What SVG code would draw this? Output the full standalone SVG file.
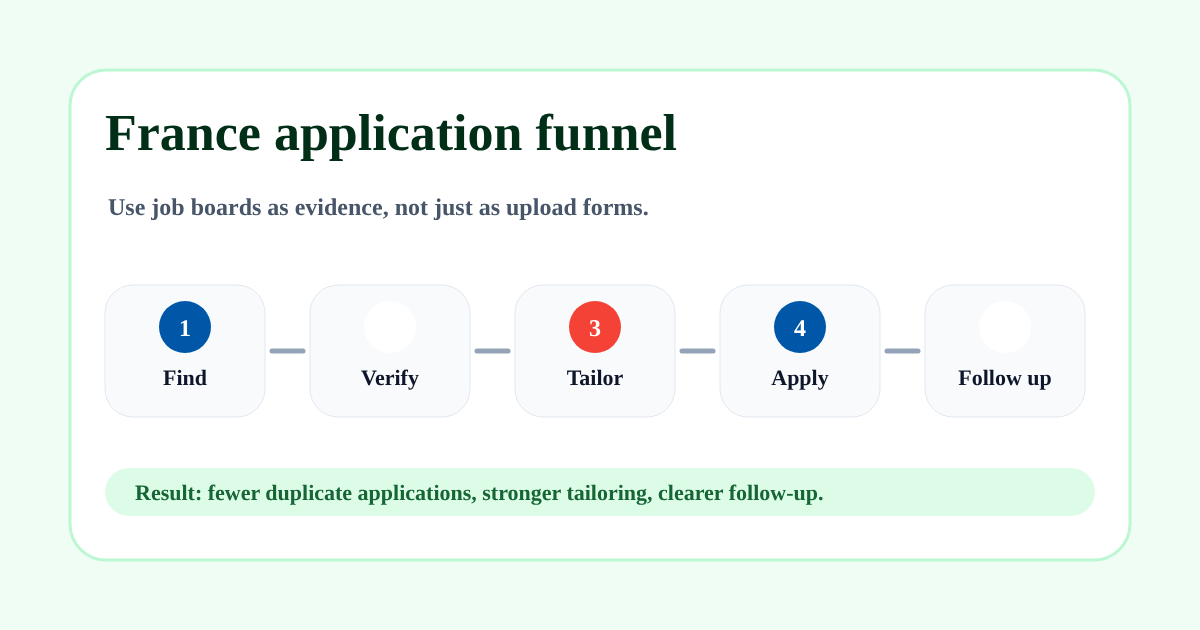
<svg xmlns="http://www.w3.org/2000/svg" width="1200" height="630" viewBox="0 0 1200 630">
<defs><filter id="soft" x="-5%" y="-20%" width="110%" height="140%"><feGaussianBlur stdDeviation="0.3"/></filter></defs>
<style>
text{font-family:"Liberation Serif","Times New Roman",serif;font-weight:700;text-rendering:geometricPrecision;filter:url(#soft)}
.box{fill:#f8fafc;stroke:#e2e8f0;stroke-width:1}
.lab{font-size:22px;fill:#0f172a;text-anchor:middle}
.num{font-size:24px;fill:#fff;text-anchor:middle}
.con{stroke:#94a3b8;stroke-width:5;stroke-linecap:round;fill:none}
</style>
<rect width="1200" height="630" fill="#f0fdf4"/>
<rect x="70" y="70" width="1060" height="490" rx="36" fill="#fff" stroke="#bbf7d0" stroke-width="3"/>
<text x="105" y="150" font-size="52" fill="#052e16">France application funnel</text>
<text x="108" y="215" font-size="24" fill="#475569">Use job boards as evidence, not just as upload forms.</text>
<g id="connectors">
<line class="con" x1="272" y1="351" x2="303" y2="351"/>
<line class="con" x1="477" y1="351" x2="508" y2="351"/>
<line class="con" x1="682" y1="351" x2="713" y2="351"/>
<line class="con" x1="887" y1="351" x2="918" y2="351"/>
</g>
<g id="node-1"><rect class="box" x="105" y="285" width="160" height="132" rx="28"/><circle cx="185" cy="327" r="26" fill="#0057a8"/><text class="num" x="185" y="336">1</text><text class="lab" x="185" y="385">Find</text></g>
<g id="node-2"><rect class="box" x="310" y="285" width="160" height="132" rx="28"/><circle cx="390" cy="327" r="26" fill="#fff"/><text class="lab" x="390" y="385">Verify</text></g>
<g id="node-3"><rect class="box" x="515" y="285" width="160" height="132" rx="28"/><circle cx="595" cy="327" r="26" fill="#f44336"/><text class="num" x="595" y="336">3</text><text class="lab" x="595" y="385">Tailor</text></g>
<g id="node-4"><rect class="box" x="720" y="285" width="160" height="132" rx="28"/><circle cx="800" cy="327" r="26" fill="#0057a8"/><text class="num" x="800" y="336">4</text><text class="lab" x="800" y="385">Apply</text></g>
<g id="node-5"><rect class="box" x="925" y="285" width="160" height="132" rx="28"/><circle cx="1005" cy="327" r="26" fill="#fff"/><text class="lab" x="1005" y="385">Follow up</text></g>
<g id="result"><rect x="105" y="468" width="990" height="48" rx="24" fill="#dcfce7"/><text x="135" y="500" font-size="22" fill="#166534">Result: fewer duplicate applications, stronger tailoring, clearer follow-up.</text></g>
</svg>
